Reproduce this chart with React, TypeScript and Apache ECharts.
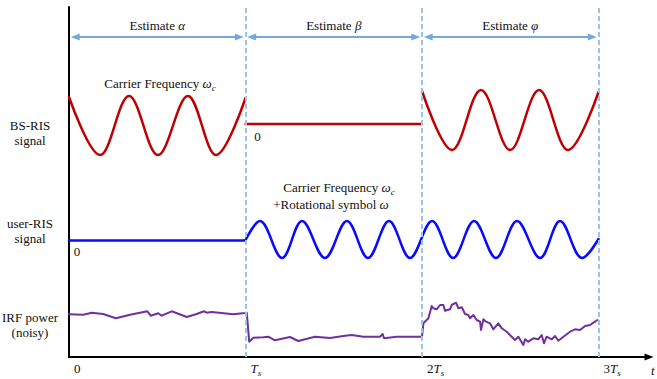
import React, { useEffect, useRef } from 'react';
import * as echarts from 'echarts';

// x in units of T_s, y in arbitrary signal level units (0 = time axis)
const tickValues = [0, 1, 2, 3];
const tickLabels = ['{n|0}', '{i|T}{s|s}', '{n|2}{i|T}{s|s}', '{n|3}{i|T}{s|s}'];
const phaseNames = ['α', 'β', 'φ'];
const slotBounds = [1, 2, 3];
const arrowLevel = 320;

// BS-RIS signal (red): carrier during slot 1, zero in slot 2, carrier in slot 3
const bsRisSlot1 = [[0, 260], [0.176, 202], [0.34, 261], [0.504, 202], [0.674, 261], [0.833, 202], [1.0, 259]];
const bsRisSlot2 = [[1.0, 233], [2.0, 233]];
const bsRisSlot3 = [[2.0, 266], [2.17, 207], [2.334, 267], [2.499, 207], [2.663, 267], [2.827, 207], [3.0, 265]];

// user-RIS signal (blue): zero in slot 1, carrier + rotation afterwards
const userRisSlot1 = [[0, 116.5], [1.0, 116.5]];
const userRisWave = [
  [1.0, 117], [1.082, 136], [1.207, 99], [1.32, 136], [1.45, 99], [1.575, 136], [1.694, 99],
  [1.813, 136], [1.932, 99], [2.057, 136], [2.176, 99], [2.295, 136], [2.419, 99], [2.538, 136],
  [2.669, 99], [2.782, 136], [2.907, 99], [3.0, 118]
];

// IRF power (noisy, purple)
const irfPower = [
  [0, 42.7], [0.081, 42.3], [0.129, 44.3], [0.193, 43], [0.266, 38.7], [0.346, 42.3], [0.444, 45.7],
  [0.463, 41.3], [0.506, 43.7], [0.525, 41.3], [0.582, 45.7], [0.667, 40], [0.723, 43], [0.765, 45.7],
  [0.78, 44.3], [0.808, 45], [0.931, 42.7], [0.997, 44], [1.007, 44.3], [1.021, 15.3], [1.044, 19.3],
  [1.101, 19.7], [1.129, 20.3], [1.167, 16.7], [1.252, 20], [1.299, 16], [1.394, 20.3], [1.479, 19],
  [1.554, 21], [1.602, 22], [1.667, 20.3], [1.762, 20.3], [1.777, 23], [1.785, 18.7], [1.857, 20.3],
  [1.993, 20.3], [2.0, 20.3], [2.008, 33.7], [2.036, 38.7], [2.055, 51], [2.064, 48.7], [2.083, 47.7],
  [2.102, 52], [2.121, 52], [2.13, 46.3], [2.159, 47.7], [2.168, 52], [2.193, 54.3], [2.206, 48.7],
  [2.225, 49.7], [2.244, 43], [2.262, 42], [2.272, 38.7], [2.291, 42], [2.31, 37], [2.329, 35.3],
  [2.334, 27], [2.348, 37.7], [2.363, 35.3], [2.385, 33.7], [2.404, 27.7], [2.432, 33.7], [2.452, 28.7],
  [2.48, 25.3], [2.508, 20.3], [2.527, 17], [2.546, 20.3], [2.574, 12], [2.584, 17.7], [2.602, 15.3],
  [2.631, 18.7], [2.659, 17.7], [2.678, 22], [2.691, 13.7], [2.706, 20.3], [2.735, 17.7], [2.754, 21],
  [2.772, 16.3], [2.801, 20.3], [2.839, 25.3], [2.867, 27.7], [2.895, 27], [2.924, 31], [2.952, 32],
  [2.98, 35.3], [2.993, 37]
];

const SERIF = 'Liberation Serif';
const TXT = '#111111';
const RED = '#c00000';
const BLUE = '#0a0aff';
const PURPLE = '#7030a0';
const DASH = '#9dc3e6';
const ARROW = '#74a9dc';
const ARROW_INSET = 0.035;

const richBase = {
  n: { fontFamily: SERIF, fontSize: 13, color: TXT, lineHeight: 18 },
  i: { fontFamily: SERIF, fontSize: 13, fontStyle: 'italic', color: TXT, lineHeight: 18 },
  s: { fontFamily: SERIF, fontSize: 9, fontStyle: 'italic', color: TXT, lineHeight: 9, verticalAlign: 'bottom' }
};

function lineSeries(data: number[][], color: string, width: number, smooth: number | boolean) {
  return {
    type: 'line',
    data,
    smooth,
    showSymbol: false,
    silent: true,
    z: 3,
    lineStyle: { color, width, join: 'round', cap: 'round' }
  };
}

function textEl(text: string, x: number, y: number, extra: any = {}) {
  return {
    type: 'text',
    x,
    y,
    silent: true,
    style: {
      text,
      fill: TXT,
      fontFamily: SERIF,
      fontSize: 13,
      align: 'center',
      verticalAlign: 'middle',
      lineHeight: 15,
      ...extra
    }
  };
}

export default function App() {
  const ref = useRef<HTMLDivElement>(null);
  useEffect(() => {
    const chart = echarts.init(ref.current!, null, { renderer: 'svg' });
    const option: any = {
      animation: false,
      backgroundColor: '#ffffff',
      textStyle: { fontFamily: SERIF },
      grid: { left: 69, right: 8, top: 7, bottom: 22, containLabel: false },
      xAxis: {
        type: 'value',
        min: 0,
        max: 3.286,
        interval: 1,
        axisLine: { show: true, onZero: false, symbol: ['none', 'triangle'], symbolSize: [7, 9], lineStyle: { color: '#000', width: 2 } },
        axisTick: { show: false },
        splitLine: { show: false },
        axisLabel: {
          show: true,
          align: 'left',
          margin: 2,
          padding: [0, 0, 0, 5],
          fontFamily: SERIF,
          formatter: (v: number) => {
            const k = tickValues.findIndex((t) => Math.abs(t - v) < 1e-6);
            return k >= 0 ? tickLabels[k] : '';
          },
          rich: richBase
        }
      },
      yAxis: {
        type: 'value',
        min: 0,
        max: 350,
        axisLine: { show: true, lineStyle: { color: '#000', width: 2 } },
        axisTick: { show: false },
        axisLabel: { show: false },
        splitLine: { show: false }
      },
      series: [
        {
          type: 'line',
          data: [],
          silent: true,
          z: 1,
          markLine: {
            silent: true,
            symbol: ['none', 'none'],
            animation: false,
            lineStyle: { type: [5, 3], color: DASH, width: 2 },
            label: { show: false },
            data: slotBounds.map((b) => ({ xAxis: b }))
          }
        },
        {
          type: 'line',
          data: [],
          silent: true,
          z: 2,
          markLine: {
            silent: true,
            symbol: ['triangle', 'triangle'],
            symbolSize: [7, 9],
            animation: false,
            lineStyle: { type: 'solid', color: ARROW, width: 2 },
            label: {
              show: true,
              position: 'insideMiddleTop',
              distance: 5,
              fontFamily: SERIF,
              rich: {
                n: { fontFamily: SERIF, fontSize: 13, color: TXT },
                g: { fontFamily: SERIF, fontSize: 13, fontStyle: 'italic', color: TXT }
              }
            },
            data: phaseNames.map((p, k) => [
              { coord: [k + ARROW_INSET, arrowLevel], label: { formatter: '{n|Estimate }{g|' + p + '}' } },
              { coord: [k + 1 - ARROW_INSET, arrowLevel] }
            ])
          }
        },
        lineSeries(bsRisSlot1, RED, 2.5, 0.36),
        lineSeries(bsRisSlot2, RED, 2.5, false),
        lineSeries(bsRisSlot3, RED, 2.5, 0.36),
        lineSeries(userRisSlot1, BLUE, 2.5, false),
        lineSeries(userRisWave, BLUE, 2.5, 0.36),
        lineSeries(irfPower, PURPLE, 2, false)
      ],
      graphic: [
        textEl('BS-RIS\nsignal', 30, 133),
        textEl('user-RIS\nsignal', 30, 230.5),
        textEl('IRF power\n(noisy)', 30, 324.5),
        textEl('{n|0}', 257.5, 136, { rich: richBase }),
        textEl('{n|0}', 77, 251.5, { rich: richBase }),
        textEl('{n|Carrier Frequency }{i|ω}{s|c}', 160, 83, { rich: richBase }),
        textEl('{n|Carrier Frequency }{i|ω}{s|c}', 339, 187, { rich: richBase }),
        textEl('{n|+Rotational symbol }{i|ω}', 331, 204, { rich: richBase }),
        textEl('t', 651, 370, { align: 'left', fontStyle: 'italic' })
      ]
    };
    chart.setOption(option);
    return () => chart.dispose();
  }, []);
  return <div ref={ref} style={{ width: 657, height: 379, position: 'absolute', left: 0, top: 0 }} />;
}
